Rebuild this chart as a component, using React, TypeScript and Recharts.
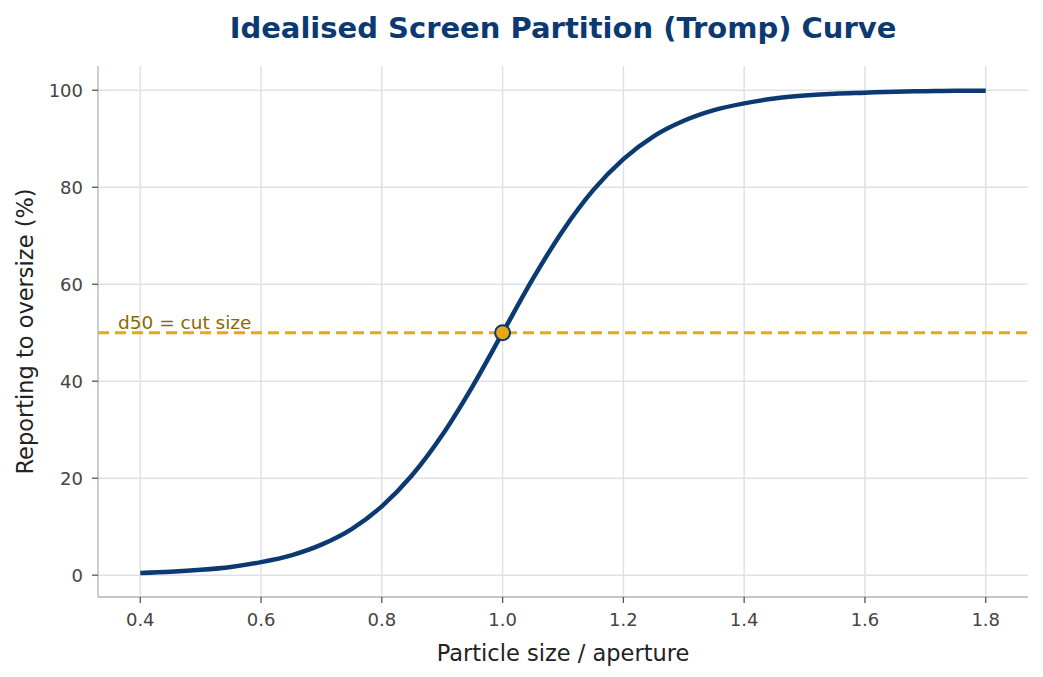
import React from "react";
import {
  CartesianGrid,
  Line,
  LineChart,
  ReferenceDot,
  ReferenceLine,
  XAxis,
  YAxis,
} from "recharts";

// particle size relative to screen aperture
const sizeRatio = [
  0.4, 0.45, 0.5, 0.55, 0.6, 0.65, 0.7, 0.75, 0.8, 0.85, 0.9, 0.95, 1.0, 1.05,
  1.1, 1.15, 1.2, 1.25, 1.3, 1.35, 1.4, 1.45, 1.5, 1.55, 1.6, 1.65, 1.7, 1.75,
  1.8,
];

// % of feed reporting to oversize
const oversizePct = [
  0.45, 0.7, 1.1, 1.7, 2.7, 4.1, 6.3, 9.5, 14.2, 20.6, 28.9, 38.9, 50, 61.1,
  71.1, 79.4, 85.8, 90.5, 93.7, 95.9, 97.3, 98.3, 98.9, 99.3, 99.5, 99.7, 99.8,
  99.9, 99.9,
];

const xTicks = [0.4, 0.6, 0.8, 1.0, 1.2, 1.4, 1.6, 1.8];
const yTicks = [0, 20, 40, 60, 80, 100];

const cutSize = 1.0;
const cutPct = 50;

const data = sizeRatio.map((x, i) => ({ x, y: oversizePct[i] }));

const NAVY = "#0b3a72";
const GOLD = "#e8a713";
const FONT = "DejaVu Sans, sans-serif";

// grid lines only at the tick values, no frame around the plot
const tickCoords = (axis: any, values: number[]) => {
  const scale = axis?.scale;
  if (typeof scale === "function") return values.map((v) => scale(v));
  if (scale && typeof scale.map === "function") return values.map((v) => scale.map(v));
  return [];
};

export default function App() {
  return (
    <div
      style={{
        position: "absolute",
        left: 0,
        top: 0,
        width: 1043,
        height: 677,
        background: "#fff",
        fontFamily: FONT,
      }}
    >
      <LineChart
        width={1043}
        height={677}
        data={data}
        margin={{ top: 66, right: 15, left: 0, bottom: 0 }}
      >
        <text
          x={563}
          y={38}
          textAnchor="middle"
          fontFamily={FONT}
          fontWeight="bold"
          fontSize={29}
          fill={NAVY}
        >
          Idealised Screen Partition (Tromp) Curve
        </text>
        <CartesianGrid
          stroke="#dde2e8"
          strokeWidth={1.5}
          horizontalCoordinatesGenerator={(p: any) => tickCoords(p.yAxis, yTicks)}
          verticalCoordinatesGenerator={(p: any) => tickCoords(p.xAxis, xTicks)}
        />
        <XAxis
          dataKey="x"
          type="number"
          domain={[0.33, 1.87]}
          ticks={xTicks}
          allowDataOverflow
          height={80}
          tickFormatter={(v: number) => v.toFixed(1)}
          stroke="#adb5bd"
          strokeWidth={1.3}
          tickSize={6}
          tickMargin={10}
          tickLine={{ stroke: "#555" }}
          tick={{ fill: "#444", fontSize: 18, fontFamily: FONT }}
          label={{
            value: "Particle size / aperture",
            position: "insideBottom",
            offset: 16,
            fill: "#222",
            fontSize: 22.5,
            fontFamily: FONT,
          }}
        />
        <YAxis
          type="number"
          domain={[-4.5, 105]}
          ticks={yTicks}
          allowDataOverflow
          width={98}
          stroke="#adb5bd"
          strokeWidth={1.3}
          tickSize={6}
          tickMargin={9}
          tickLine={{ stroke: "#555" }}
          tick={{ fill: "#444", fontSize: 18, fontFamily: FONT }}
          label={{
            value: "Reporting to oversize (%)",
            angle: -90,
            position: "insideLeft",
            offset: 25,
            fill: "#222",
            fontSize: 22.5,
            fontFamily: FONT,
            style: { textAnchor: "middle" },
          }}
        />
        <ReferenceLine
          y={cutPct}
          stroke={GOLD}
          strokeWidth={3}
          strokeDasharray="11 6"
          label={(props: any) => {
            const vb = props.viewBox || {};
            return (
              <text
                x={vb.x + 20}
                y={vb.y - 4}
                fill="#8a6a00"
                fontSize={18.5}
                fontFamily={FONT}
              >
                d50 = cut size
              </text>
            );
          }}
        />
        <Line
          type="monotone"
          dataKey="y"
          stroke={NAVY}
          strokeWidth={4.5}
          dot={false}
          activeDot={false}
          isAnimationActive={false}
        />
        <ReferenceDot
          x={cutSize}
          y={cutPct}
          r={7.5}
          fill={GOLD}
          stroke={NAVY}
          strokeWidth={2}
        />
      </LineChart>
    </div>
  );
}
